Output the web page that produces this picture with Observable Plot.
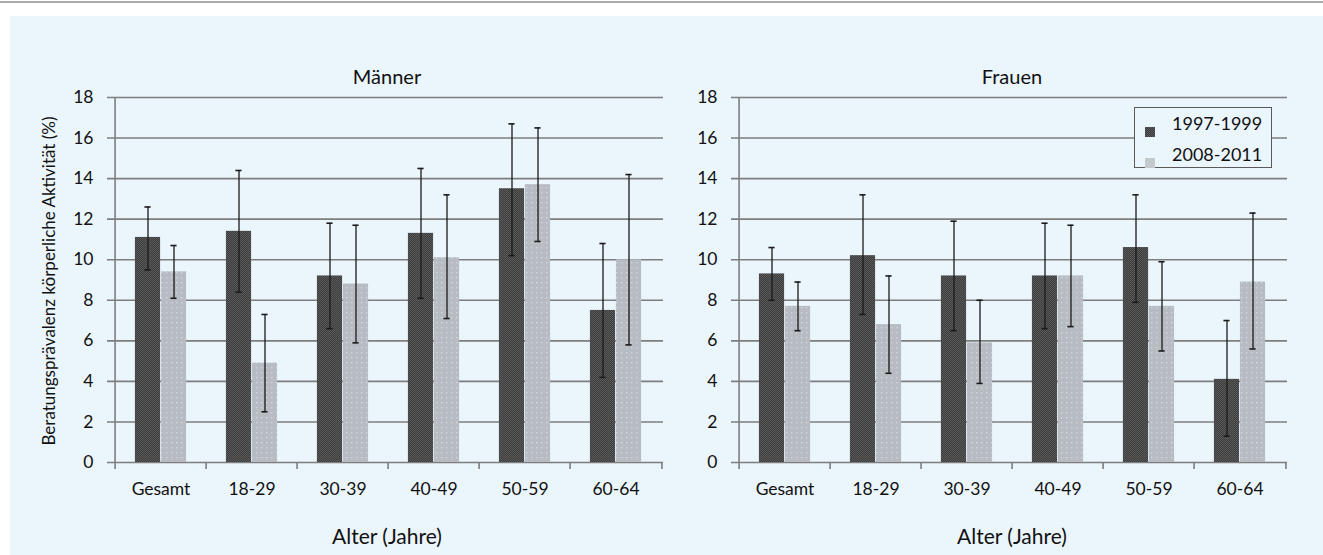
<!DOCTYPE html>
<html><head><meta charset="utf-8">
<script src="https://cdn.jsdelivr.net/npm/d3@7"></script>
<script src="https://cdn.jsdelivr.net/npm/@observablehq/plot@0.6"></script>
<style>
body{margin:0;background:#fff;font-family:Lato,"Open Sans",sans-serif;color:#111;}
#page{position:relative;width:1323px;height:555px;overflow:hidden;background:#fff;}
#topline{position:absolute;left:0;top:1px;width:1323px;height:2px;background:#a9a9a9;}
#bg{position:absolute;left:10px;top:16px;right:0;bottom:0;background:#eaf5fc;}
.plot{position:absolute;top:16px;}
.title{position:absolute;font-size:20px;transform:translate(-50%,-50%);white-space:nowrap;}
.xlab{position:absolute;font-size:21px;transform:translate(-50%,-50%);white-space:nowrap;}
#ylab{position:absolute;left:48px;top:281px;font-size:17px;transform:translate(-50%,-50%) rotate(-90deg);white-space:nowrap;}
#legend{position:absolute;left:1134px;top:107px;width:136px;height:59px;border:1.5px solid #5a5a5a;background:#eaf5fc;}
.lrow{position:absolute;left:0;height:24px;font-size:18px;line-height:24px;}
.sw{position:absolute;left:10px;top:7px;width:10px;height:10px;}
.lt{position:absolute;left:37px;top:0;white-space:nowrap;}
</style></head><body>
<svg width="0" height="0" style="position:absolute">
<defs>
<pattern id="darkPat" width="2" height="2" patternUnits="userSpaceOnUse">
<rect width="2" height="2" fill="#3e3e3e"/>
<rect x="0" y="0" width="1" height="1" fill="#5c5c5c"/>
<rect x="1" y="1" width="1" height="1" fill="#555555"/>
</pattern>
<pattern id="lightPat" width="5" height="5" patternUnits="userSpaceOnUse">
<rect width="5" height="5" fill="#b6bcc2"/>
<rect x="1" y="1" width="1.4" height="1.4" fill="#d0d6db"/>
</pattern>
</defs></svg>
<div id="page">
<div id="topline"></div>
<div id="bg"></div>
<div class="title" style="left:387px;top:76px">Männer</div>
<div class="title" style="left:1012px;top:76px">Frauen</div>
<div class="xlab" style="left:387px;top:535px">Alter (Jahre)</div>
<div class="xlab" style="left:1012px;top:535px">Alter (Jahre)</div>
<div id="ylab">Beratungsprävalenz körperliche Aktivität (%)</div>
<div id="left" class="plot" style="left:10px"></div>
<div id="right" class="plot" style="left:670px"></div>
<div id="legend">
<div class="lrow" style="top:3px"><div class="sw"></div><div class="lt">1997-1999</div></div>
<div class="lrow" style="top:34px"><div class="sw"></div><div class="lt">2008-2011</div></div>
</div>
</div>
<script>
const categories = ["Gesamt", "18-29", "30-39", "40-49", "50-59", "60-64"];
const periods = ["1997-1999", "2008-2011"];
const yTicks = [0, 2, 4, 6, 8, 10, 12, 14, 16, 18];

const menEarly   = [11.1, 11.4, 9.2, 11.3, 13.5, 7.5];
const menEarlyLo = [9.5, 8.4, 6.6, 8.1, 10.2, 4.2];
const menEarlyHi = [12.6, 14.4, 11.8, 14.5, 16.7, 10.8];
const menLate    = [9.4, 4.9, 8.8, 10.1, 13.7, 10.0];
const menLateLo  = [8.1, 2.5, 5.9, 7.1, 10.9, 5.8];
const menLateHi  = [10.7, 7.3, 11.7, 13.2, 16.5, 14.2];

const womenEarly   = [9.3, 10.2, 9.2, 9.2, 10.6, 4.1];
const womenEarlyLo = [8.0, 7.3, 6.5, 6.6, 7.9, 1.3];
const womenEarlyHi = [10.6, 13.2, 11.9, 11.8, 13.2, 7.0];
const womenLate    = [7.7, 6.8, 5.9, 9.2, 7.7, 8.9];
const womenLateLo  = [6.5, 4.4, 3.9, 6.7, 5.5, 5.6];
const womenLateHi  = [8.9, 9.2, 8.0, 11.7, 9.9, 12.3];

function rows(vals, lo, hi) {
  return categories.map((c, i) => ({cat: c, v: vals[i], lo: lo[i], hi: hi[i]}));
}

function panel(early, eLo, eHi, late, lLo, lHi, width, mL, mR) {
  const H = 484, mT = 81, mB = 38;
  const bw = (width - mL - mR) / categories.length;
  const barW = 26, cap = 3.5;
  const dE = rows(early, eLo, eHi);
  const dL = rows(late, lLo, lHi);
  const gridColor = "#7e7e7e";
  return Plot.plot({
    width, height: H,
    marginLeft: mL, marginRight: mR, marginTop: mT, marginBottom: mB,
    style: {background: "transparent", fontFamily: "Lato, 'Open Sans', sans-serif", fontSize: "17.5px", color: "#111", overflow: "visible"},
    x: {domain: categories, padding: 0, label: null, tickSize: 0, tickPadding: 20},
    y: {domain: [0, 18], ticks: yTicks, tickSize: 0, tickPadding: 19, label: null, tickFormat: d => d},
    marks: [
      Plot.ruleY(yTicks, {stroke: gridColor, strokeWidth: 1.6, insetLeft: -5}),
      Plot.ruleX([categories[0]], {x: d => d, dx: -bw / 2, y1: -0.35, y2: 18, stroke: gridColor, strokeWidth: 1.6}),
      Plot.ruleX(categories.slice(1), {x: d => d, dx: -bw / 2, y1: -0.35, y2: 0, stroke: gridColor, strokeWidth: 1.6}),
      Plot.ruleX([categories[categories.length - 1]], {x: d => d, dx: bw / 2, y1: -0.35, y2: 0, stroke: gridColor, strokeWidth: 1.6}),
      Plot.barY(dE, {x: "cat", y: "v", fill: "url(#darkPat)", insetLeft: bw / 2 - barW, insetRight: bw / 2}),
      Plot.barY(dL, {x: "cat", y: "v", fill: "url(#lightPat)", insetLeft: bw / 2, insetRight: bw / 2 - barW}),
      Plot.ruleX(dE, {x: "cat", y1: "lo", y2: "hi", dx: -barW / 2, stroke: "#1a1a1a", strokeWidth: 1.3}),
      Plot.ruleX(dL, {x: "cat", y1: "lo", y2: "hi", dx: barW / 2, stroke: "#1a1a1a", strokeWidth: 1.3}),
      Plot.tickY(dE, {x: "cat", y: "hi", dx: -barW / 2, insetLeft: bw / 2 - cap, insetRight: bw / 2 - cap, stroke: "#1a1a1a", strokeWidth: 1.6}),
      Plot.tickY(dE, {x: "cat", y: "lo", dx: -barW / 2, insetLeft: bw / 2 - cap, insetRight: bw / 2 - cap, stroke: "#1a1a1a", strokeWidth: 1.6}),
      Plot.tickY(dL, {x: "cat", y: "hi", dx: barW / 2, insetLeft: bw / 2 - cap, insetRight: bw / 2 - cap, stroke: "#1a1a1a", strokeWidth: 1.6}),
      Plot.tickY(dL, {x: "cat", y: "lo", dx: barW / 2, insetLeft: bw / 2 - cap, insetRight: bw / 2 - cap, stroke: "#1a1a1a", strokeWidth: 1.6})
    ]
  });
}

document.getElementById("left").append(panel(menEarly, menEarlyLo, menEarlyHi, menLate, menLateLo, menLateHi, 660, 102, 7));
document.getElementById("right").append(panel(womenEarly, womenEarlyLo, womenEarlyHi, womenLate, womenLateLo, womenLateHi, 653, 66, 36));
const sws = document.querySelectorAll(".sw");
sws[0].innerHTML = '<svg width="10" height="10"><rect width="10" height="10" fill="url(#darkPat)"/></svg>';
sws[1].innerHTML = '<svg width="10" height="10"><rect width="10" height="10" fill="#c4c9ce"/></svg>';
</script>
</body></html>
